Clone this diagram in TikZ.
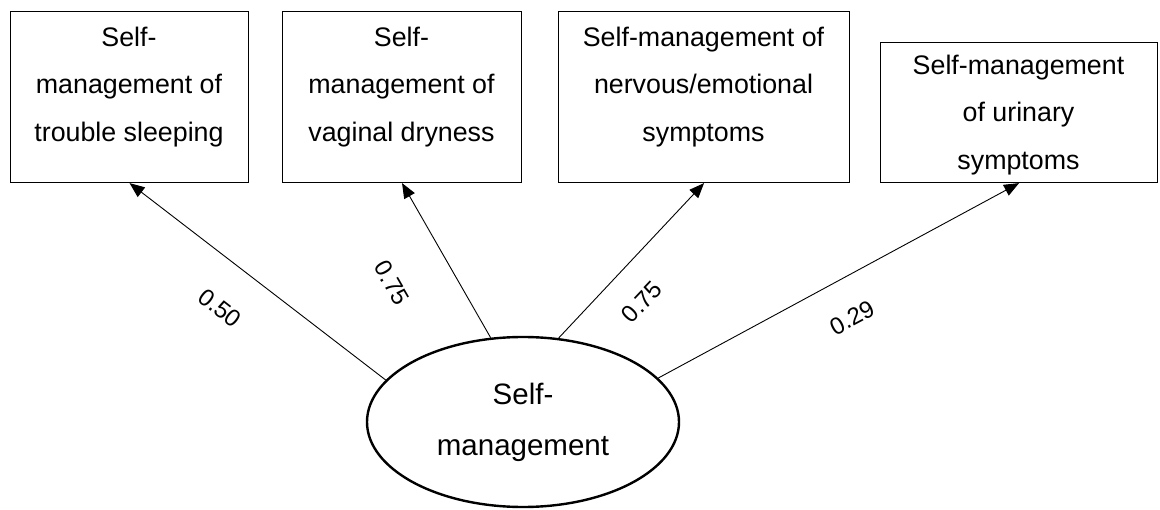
\documentclass[tikz,border=0pt]{standalone}
\usepackage{fontspec}
\setmainfont{Liberation Sans}
\usetikzlibrary{shapes.geometric,arrows.meta}
\begin{document}
\begin{tikzpicture}[x=1pt,y=-1pt,
  indicator/.style={draw, line width=1.1pt, inner sep=0pt, anchor=north west},
  boxtext/.style={anchor=north, align=center, inner sep=0pt, font=\fontsize{26.8}{47.5}\selectfont},
  latent/.style={draw, ellipse, line width=2.4pt, inner sep=0pt, minimum width=312pt, minimum height=170pt, align=center, font=\fontsize{29.5}{51}\selectfont},
  loading/.style={-{Triangle[length=15pt,width=12pt]}, line width=0.9pt},
  coef/.style={inner sep=0pt, font=\fontsize{24}{24}\selectfont}]
\useasboundingbox (0,0) rectangle (1160,510);

% observed indicators
\node[indicator, minimum width=238pt, minimum height=171pt] (b1) at (10,11) {};
\node[indicator, minimum width=239pt, minimum height=171pt] (b2) at (282,11) {};
\node[indicator, minimum width=291pt, minimum height=171pt] (b3) at (558,11) {};
\node[indicator, minimum width=277pt, minimum height=140pt] (b4) at (880,42) {};

\node[boxtext] (t1) at (129,26.4) {Self-\\management of\\trouble sleeping};
\node[boxtext] (t2) at (401.5,26.4) {Self-\\management of\\vaginal dryness};
\node[boxtext] (t3) at (703.5,26.4) {Self-management of\\nervous/emotional\\symptoms};
\node[boxtext] (t4) at (1018.5,54.4) {Self-management\\of urinary\\symptoms};

% latent factor
\node[latent] (e) at (523,422) {Self-\\management};

% factor loadings
\draw[loading] (e.163.3) -- (b1.south);
\draw[loading] (e.111.2) -- (b2.south);
\draw[loading] (e.67.6) -- (b3.south);
\draw[loading] (e.18.8) -- (b4.south);

\node[coef, rotate=-38] (c1) at (220,308) {0.50};
\node[coef, rotate=-60] (c2) at (392,283) {0.75};
\node[coef, rotate=46.5] (c3) at (642,302) {0.75};
\node[coef, rotate=28] (c4) at (852,318) {0.29};
\end{tikzpicture}
\end{document}
